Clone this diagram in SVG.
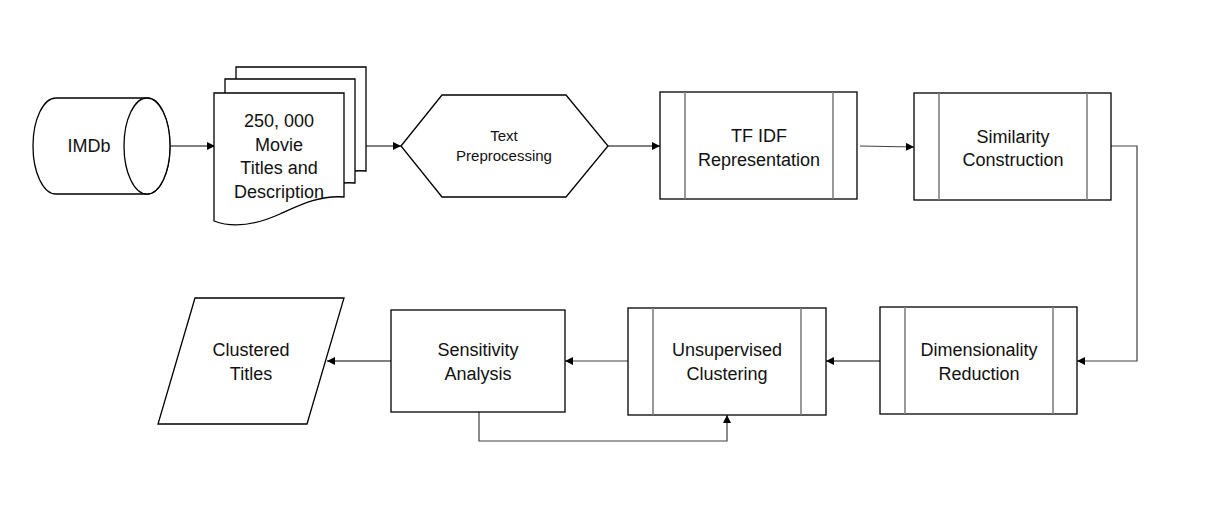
<svg xmlns="http://www.w3.org/2000/svg" width="1219" height="515" viewBox="0 0 1219 515">
<defs>
<style>
.shape{fill:#fff;stroke:#000;stroke-width:1.3}
.inner{stroke:#808080;stroke-width:1.6;fill:none}
.conn{fill:none;stroke:#000;stroke-width:1.2}
.connG{fill:none;stroke:#404040;stroke-width:1.2}
text{font-family:"Liberation Sans",Arial,sans-serif;font-size:18px;fill:#111;text-anchor:middle}
.small{font-size:15px}
</style>
<marker id="arr" viewBox="0 0 10 10" refX="10" refY="5" markerWidth="9" markerHeight="8" markerUnits="userSpaceOnUse" orient="auto">
<path d="M0,0 L10,5 L0,10 z" fill="#000"/>
</marker>
<path id="docshape" d="M214,93 H344 V197 C320,195 300,205 280,214 C260,223 235,229 214,221 Z"/>
</defs>
<rect width="1219" height="515" fill="#fff"/>

<g id="connectors">
<line class="conn" x1="171" y1="146" x2="215" y2="146" marker-end="url(#arr)"/>
<line class="conn" x1="365" y1="146" x2="401" y2="146" marker-end="url(#arr)"/>
<line class="conn" x1="608" y1="146" x2="660" y2="146" marker-end="url(#arr)"/>
<line class="connG" x1="860" y1="146" x2="914" y2="147" marker-end="url(#arr)"/>
<polyline class="connG" points="1111,146 1137,146 1137,361 1077,361" marker-end="url(#arr)"/>
<line class="conn" x1="880" y1="361" x2="826" y2="361" marker-end="url(#arr)"/>
<line class="connG" x1="628" y1="361" x2="565" y2="361" marker-end="url(#arr)"/>
<line class="conn" x1="391" y1="361" x2="327" y2="361" marker-end="url(#arr)"/>
<polyline class="connG" points="479,412 479,441 727,441 727,415" marker-end="url(#arr)"/>
</g>

<g id="imdb">
<path class="shape" d="M56,98 H147 A23,48 0 0 1 147,194 H56 A23,48 0 0 1 56,98 Z"/>
<ellipse class="shape" cx="147" cy="146" rx="23" ry="48"/>
<text x="89" y="152">IMDb</text>
</g>

<g id="movie-titles">
<use href="#docshape" class="shape" transform="translate(22,-26)"/>
<use href="#docshape" class="shape" transform="translate(11,-14)"/>
<use href="#docshape" class="shape"/>
<text x="279" y="127">250, 000</text>
<text x="279" y="151">Movie</text>
<text x="279" y="174">Titles and</text>
<text x="279" y="198">Description</text>
</g>

<g id="text-preprocessing">
<polygon class="shape" points="401,146 442,95 566,95 608,146 566,197 442,197"/>
<text class="small" x="504" y="141">Text</text>
<text class="small" x="504" y="161">Preprocessing</text>
</g>

<g id="tfidf">
<rect class="shape" x="660" y="92" width="197" height="107"/>
<line class="inner" x1="685" y1="92" x2="685" y2="199"/>
<line class="inner" x1="833" y1="92" x2="833" y2="199"/>
<text x="759" y="142">TF IDF</text>
<text x="759" y="166">Representation</text>
</g>

<g id="similarity">
<rect class="shape" x="914" y="93" width="197" height="107"/>
<line class="inner" x1="939" y1="93" x2="939" y2="200"/>
<line class="inner" x1="1087" y1="93" x2="1087" y2="200"/>
<text x="1013" y="143">Similarity</text>
<text x="1013" y="166">Construction</text>
</g>

<g id="dimensionality">
<rect class="shape" x="880" y="307" width="197" height="107"/>
<line class="inner" x1="905" y1="307" x2="905" y2="414"/>
<line class="inner" x1="1053" y1="307" x2="1053" y2="414"/>
<text x="979" y="356">Dimensionality</text>
<text x="979" y="380">Reduction</text>
</g>

<g id="unsupervised">
<rect class="shape" x="628" y="308" width="198" height="107"/>
<line class="inner" x1="653" y1="308" x2="653" y2="415"/>
<line class="inner" x1="801" y1="308" x2="801" y2="415"/>
<text x="727" y="356">Unsupervised</text>
<text x="727" y="380">Clustering</text>
</g>

<g id="sensitivity">
<rect class="shape" x="391" y="310" width="174" height="102"/>
<text x="478" y="356">Sensitivity</text>
<text x="478" y="380">Analysis</text>
</g>

<g id="clustered-titles">
<polygon class="shape" points="195,298 344,298 307,424 158,424"/>
<text x="251" y="356">Clustered</text>
<text x="251" y="380">Titles</text>
</g>
</svg>
